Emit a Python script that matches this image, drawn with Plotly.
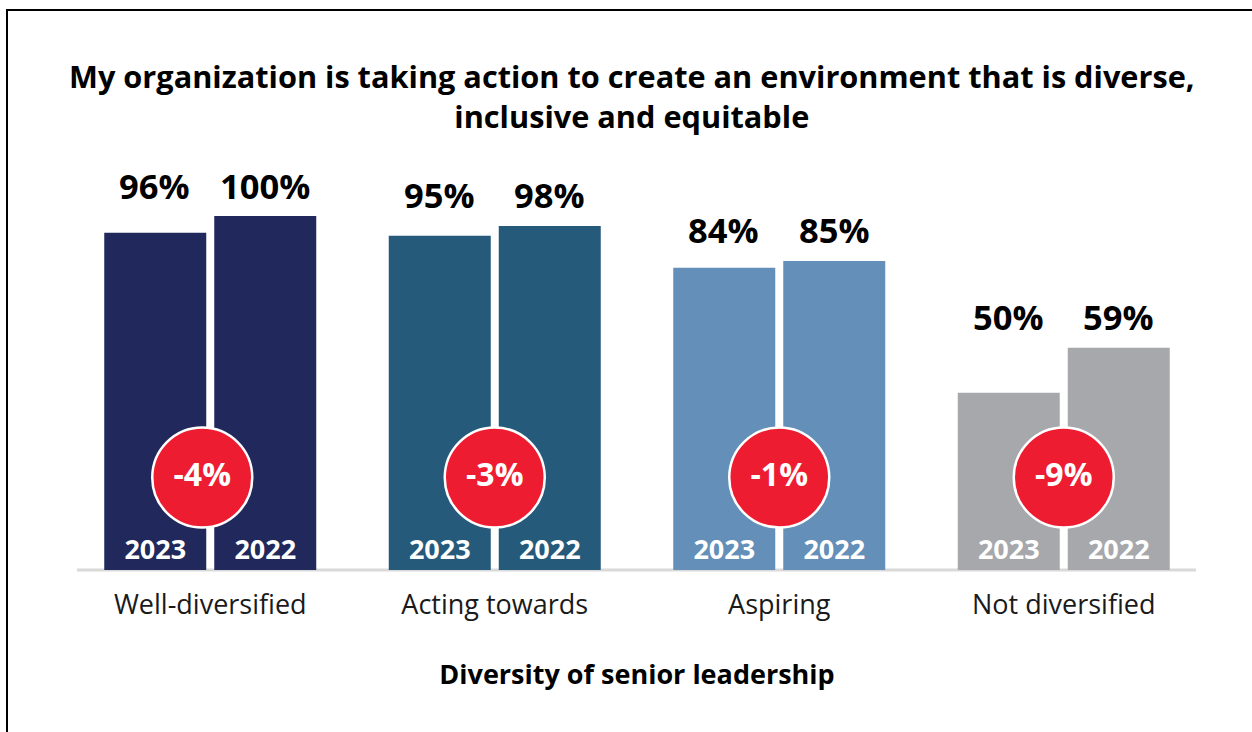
import plotly.graph_objects as go

categories = ["Well-diversified", "Acting towards", "Aspiring", "Not diversified"]
# bar heights as drawn in the reference (in %), and the printed labels
bars_2023 = [95.3, 94.4, 85.4, 50.1]
bars_2022 = [100.0, 97.2, 87.3, 62.8]
labels_2023 = ["96%", "95%", "84%", "50%"]
labels_2022 = ["100%", "98%", "85%", "59%"]
changes = ["-4%", "-3%", "-1%", "-9%"]
group_colors = ["#21295C", "#255A7A", "#638FB8", "#A7A8AC"]
title_lines = [
    "My organization is taking action to create an environment that is diverse,",
    "inclusive and equitable",
]
circle_dx_px = [-8, 0, 0, 0]

FONT = "Open Sans"
W, H = 1252, 732
ML, MR, MT, MB = 68, 46, 130, 162
plot_w = W - ML - MR
plot_h = H - MT - MB
BASE = H - MB
y_max = 100 * plot_h / 354.0
xs = list(range(len(categories)))
cat_w = plot_w / len(categories)


def py(px):
    return (BASE - px) / plot_h


def pxx(px):
    return (px - ML) / plot_w


fig = go.Figure()
for name, vals in [("2023", bars_2023), ("2022", bars_2022)]:
    fig.add_trace(go.Bar(
        x=xs, y=vals, name=name,
        marker=dict(color=group_colors, line=dict(width=0)),
        text=[name] * len(vals), textposition="inside", insidetextanchor="start",
        textangle=0,
        insidetextfont=dict(family=FONT, size=27, color="white", weight="bold"),
        hoverinfo="skip",
    ))

circle_y = y_max * (BASE - 477.5) / plot_h
fig.add_trace(go.Scatter(
    x=[x + d / cat_w for x, d in zip(xs, circle_dx_px)],
    y=[circle_y] * len(categories), mode="markers+text",
    text=changes, textposition="middle center",
    textfont=dict(family=FONT, size=32, color="white", weight="bold"),
    marker=dict(size=100, color="#EE1C31", line=dict(color="white", width=2.5)),
    hoverinfo="skip", showlegend=False,
))

annotations = []
for i in xs:
    top = max(bars_2023[i], bars_2022[i])
    for lab, dx in [(labels_2023[i], -55.5), (labels_2022[i], 55)]:
        annotations.append(dict(
            x=i, y=top, xref="x", yref="y", xshift=dx, yshift=5.5,
            text=f"<b>{lab}</b>", showarrow=False, yanchor="bottom",
            font=dict(family=FONT, size=34.5, color="black"),
        ))

annotations.append(dict(
    x=pxx(631.5), xref="paper", y=py(95.5), yref="paper",
    text="<b>" + "<br>".join(title_lines) + "</b>",
    showarrow=False, xanchor="center", yanchor="middle", align="center",
    font=dict(family=FONT, size=30.7, color="black"),
))

fig.update_layout(
    width=W, height=H,
    margin=dict(l=ML, r=MR, t=MT, b=MB, pad=0),
    paper_bgcolor="white", plot_bgcolor="white",
    barmode="group", bargap=0.2267, bargroupgap=0.0727,
    showlegend=False,
    xaxis=dict(
        range=[-0.5, len(categories) - 0.5],
        tickmode="array", tickvals=xs, ticktext=categories,
        showline=False, showgrid=False, zeroline=False, ticks="",
        tickfont=dict(family=FONT, size=27, color="#1a1a1a"),
        ticklabelstandoff=16,
        title=dict(text="<b>Diversity of senior leadership</b>", standoff=44,
                   font=dict(family=FONT, size=27, color="black")),
    ),
    yaxis=dict(range=[0, y_max], visible=False, showgrid=False, zeroline=False),
    annotations=annotations,
    shapes=[
        dict(type="line", xref="paper", yref="paper",
             x0=pxx(77), x1=pxx(1196), y0=0, y1=0,
             line=dict(color="#D9D9D9", width=3), layer="below"),
        dict(type="rect", xref="paper", yref="paper",
             x0=pxx(7), x1=pxx(W + 20), y0=py(H + 20), y1=py(10),
             line=dict(color="black", width=2), fillcolor="rgba(0,0,0,0)"),
    ],
)

fig.write_html("out.html", config={"displayModeBar": False},
               post_script="document.body.style.margin='0';")
